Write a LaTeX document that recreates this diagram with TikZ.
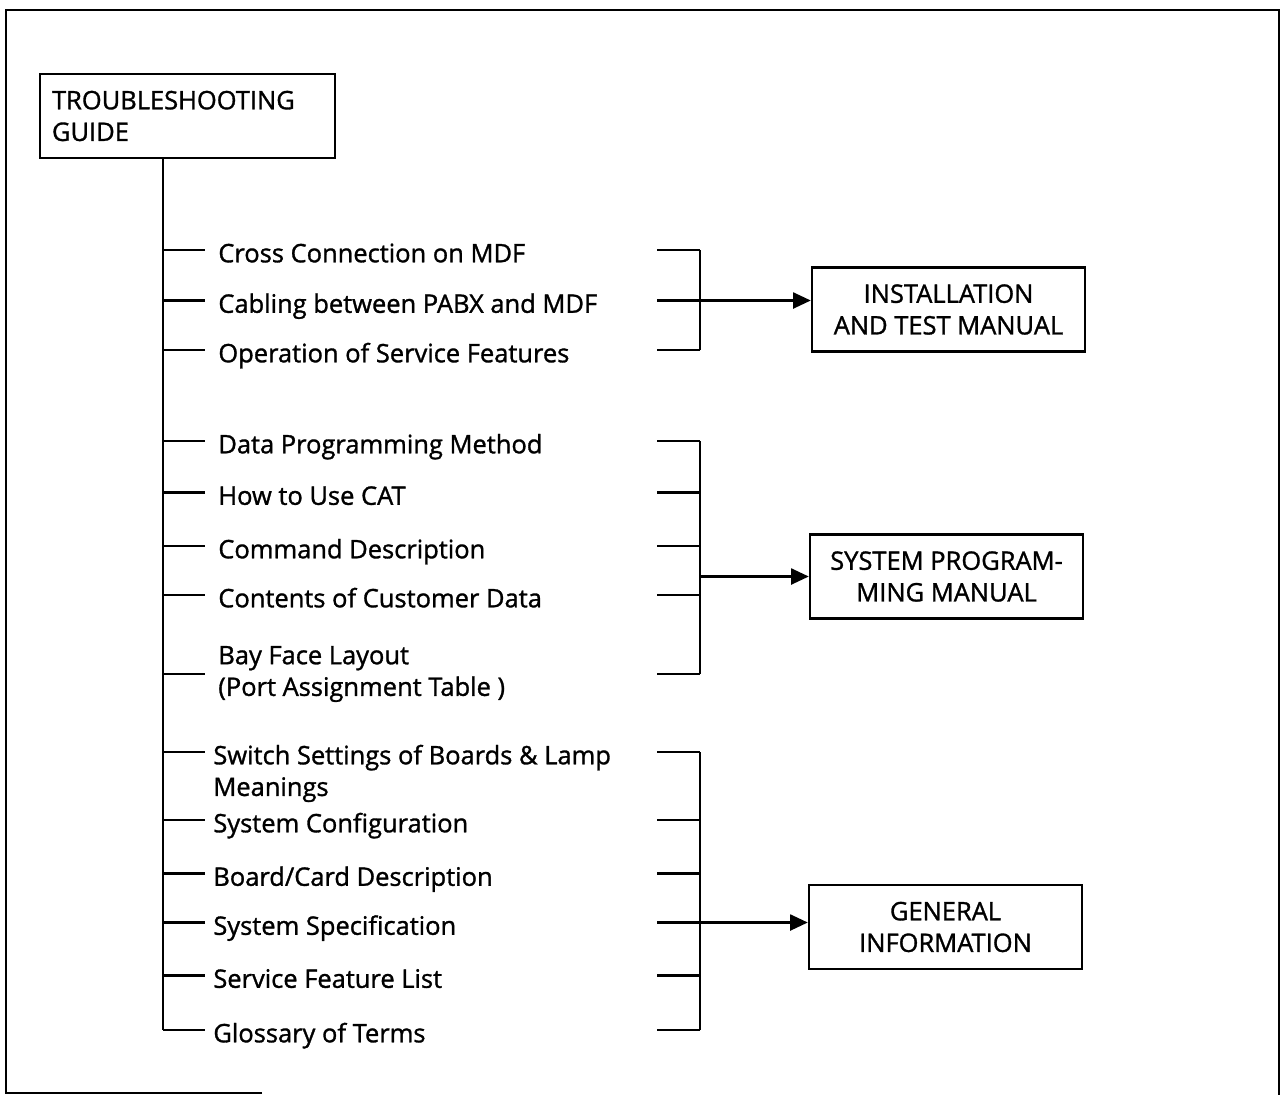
\documentclass[tikz,border=0pt]{standalone}
\usepackage{fontspec}
\setmainfont{Open Sans}[FakeBold=1.2]
\usetikzlibrary{positioning,arrows.meta}

\begin{document}
\begin{tikzpicture}[
    x=0.02cm, y=-0.02cm,
    every node/.style={font=\fontsize{14.5pt}{18pt}\selectfont},
    frame_line/.style={line width=1.5pt},
    link/.style={line width=1.4pt},
    arrow_link/.style={link, -{Triangle[length=10pt,width=9pt]}},
    guide_box/.style={draw, line width=1.4pt, align=left, text width=5.42cm, inner xsep=0.24cm, inner ysep=0pt, minimum height=1.68cm},
    manual_box/.style={draw, line width=1.4pt, align=center, minimum width=5.46cm, minimum height=1.68cm, inner sep=0pt},
    item/.style={anchor=west, inner sep=0pt, text height=14pt, text depth=0pt},
    item_two/.style={anchor=west, inner sep=0pt, align=left}
]
\useasboundingbox (0,0) rectangle (1280,1095);

% Page frame
\draw[frame_line] (262,1093) -- (6,1093) -- (6,10) -- (1279,10) -- (1279,1095);

% Top box and trunk
\node[guide_box] (guide) at (187.5,116) {TROUBLESHOOTING\\GUIDE};
\coordinate (trunkend) at (163,1030);
\coordinate (brk) at (700,0);
\draw[link] (guide.south -| trunkend) -- (trunkend);

% Manuals
\node[manual_box] (inst) at (948.5,309.5) {INSTALLATION\\AND TEST MANUAL};
\node[manual_box] (sysprog) at (946.5,576.5) {SYSTEM PROGRAM-\\MING MANUAL};
\node[manual_box] (geninfo) at (945.5,927) {GENERAL\\INFORMATION};

% Items, installation group
\node[item] (i1) at (218,250) {Cross Connection on MDF};
\node[item] (i2) at (218,300.5) {Cabling between PABX and MDF};
\node[item] (i3) at (218,350) {Operation of Service Features};

% Items, programming group
\node[item] (i4) at (218,441) {Data Programming Method};
\node[item] (i5) at (218,492.5) {How to Use CAT};
\node[item] (i6) at (218,546) {Command Description};
\node[item] (i7) at (218,595) {Contents of Customer Data};
\node[item_two] (i8) at (218,674) {Bay Face Layout\\(Port Assignment Table )};

% Items, general group
\node[item] (i9) at (213,752) {\begin{tabular}[t]{@{}l@{}}Switch Settings of Boards \& Lamp\\Meanings\end{tabular}};
\node[item] (i10) at (213,820) {System Configuration};
\node[item] (i11) at (213,873.5) {Board/Card Description};
\node[item] (i12) at (213,922.5) {System Specification};
\node[item] (i13) at (213,975.5) {Service Feature List};
\node[item] (i14) at (213,1030) {Glossary of Terms};

% Ticks on both sides
\foreach \n in {1,...,14} {
    \draw[link] (i\n.west -| trunkend) -- ++(42,0);
    \draw[link] (i\n.west -| brk) -- ++(-43,0);
}

% Brackets
\draw[link] (i1.west -| brk) -- (i3.west -| brk);
\draw[link] (i4.west -| brk) -- (i8.west -| brk);
\draw[link] (i9.west -| brk) -- (i14.west -| brk);

% Arrows to manuals
\draw[arrow_link] (i2.west -| brk) -- (i2.west -| inst.west);
\draw[arrow_link] (brk |- sysprog) -- (sysprog);
\draw[arrow_link] (i12.west -| brk) -- (i12.west -| geninfo.west);

\end{tikzpicture}
\end{document}
